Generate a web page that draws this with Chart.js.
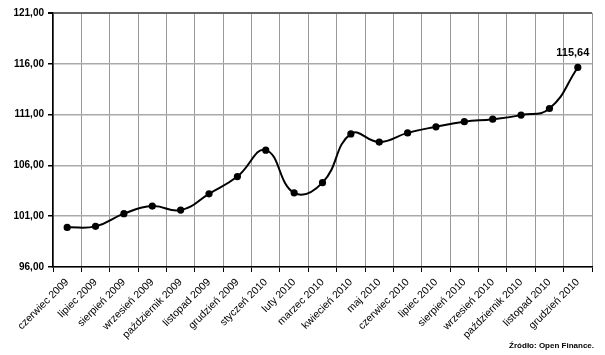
<!DOCTYPE html>
<html>
<head>
<meta charset="utf-8">
<script src="https://cdn.jsdelivr.net/npm/chart.js@4"></script>
<style>
  html, body { margin: 0; padding: 0; background: #fff; }
  #wrap { width: 605px; height: 355px; position: relative; }
</style>
</head>
<body>
<div id="wrap"><canvas id="myChart"></canvas></div>
<script>
const months = [
  "czerwiec 2009", "lipiec 2009", "sierpień 2009", "wrzesień 2009", "październik 2009",
  "listopad 2009", "grudzień 2009", "styczeń 2010", "luty 2010", "marzec 2010",
  "kwiecień 2010", "maj 2010", "czerwiec 2010", "lipiec 2010", "sierpień 2010",
  "wrzesień 2010", "październik 2010", "listopad 2010", "grudzień 2010"
];
const values = [
  99.9, 100.0, 101.25, 102.0, 101.6, 103.2, 104.9, 107.5, 103.3, 104.3,
  109.1, 108.3, 109.2, 109.8, 110.3, 110.55, 110.95, 111.6, 115.64
];
const yMin = 96;
const yMax = 121;
const yStep = 5;
const lastLabel = "115,64";
const sourceText = "Źródło: Open Finance.";

const fmt = v => v.toFixed(2).replace(".", ",");

const extras = {
  id: "extras",
  afterDatasetsDraw(chart) {
    const c = chart.ctx;
    const meta = chart.getDatasetMeta(0);
    const last = meta.data[meta.data.length - 1];
    c.save();
    c.fillStyle = "#000";
    c.font = "bold 11px 'Liberation Sans', Arial, sans-serif";
    c.textAlign = "center";
    c.textBaseline = "bottom";
    c.fillText(lastLabel, last.x - 5, last.y - 9);
    c.font = "bold 8px 'Liberation Sans Narrow', 'Liberation Sans', Arial, sans-serif";
    c.textAlign = "right";
    c.fillText(sourceText, 594, 350);
    c.restore();
  }
};

new Chart(document.getElementById("myChart"), {
  type: "line",
  data: {
    labels: months,
    datasets: [{
      data: values,
      borderColor: "#000",
      borderWidth: 2,
      tension: 0.45,
      pointRadius: 2.6,
      pointBackgroundColor: "#000",
      pointBorderColor: "#000",
      fill: false
    }]
  },
  options: {
    responsive: true,
    maintainAspectRatio: false,
    animation: false,
    layout: { padding: { top: 13, right: 13, left: 0, bottom: 0 } },
    plugins: {
      legend: { display: false },
      tooltip: { enabled: false }
    },
    scales: {
      x: {
        offset: true,
        afterFit: s => { s.height = 88; },
        grid: {
          offset: true,
          color: "#999",
          lineWidth: 1,
          tickLength: 5,
          tickColor: "#000"
        },
        border: { color: "#000", width: 1.5 },
        ticks: {
          minRotation: 45,
          maxRotation: 45,
          autoSkip: false,
          color: "#000",
          padding: 4,
          font: { family: "'Liberation Sans', Arial, sans-serif", size: 10.5 }
        }
      },
      y: {
        min: yMin,
        max: yMax,
        afterFit: s => { s.width = 53; },
        grid: {
          color: ctx => ctx.tick && ctx.tick.value === yMax ? "#666" : "#aaa",
          lineWidth: ctx => ctx.tick && ctx.tick.value === yMax ? 2 : 1.5,
          tickLength: 5,
          tickColor: "#000"
        },
        border: { color: "#000", width: 1.5 },
        ticks: {
          stepSize: yStep,
          color: "#000",
          padding: 4,
          callback: v => fmt(v),
          font: { family: "'Liberation Sans', Arial, sans-serif", size: 10, weight: "bold" }
        }
      }
    }
  },
  plugins: [extras]
});
</script>
</body>
</html>
